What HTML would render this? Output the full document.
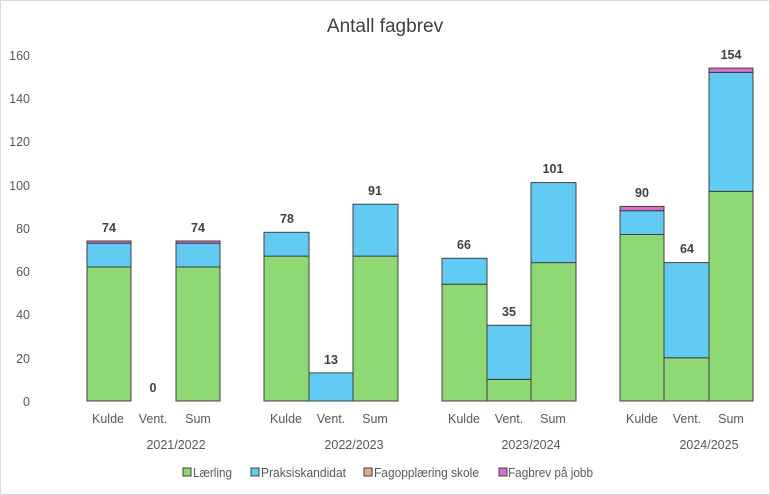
<!DOCTYPE html>
<html><head><meta charset="utf-8"><style>
body{margin:0;background:#fff}
svg{display:block;font-family:"Liberation Sans",sans-serif}
</style></head><body>
<svg width="770" height="495" viewBox="0 0 770 495" xmlns="http://www.w3.org/2000/svg">
<rect x="0.5" y="0.5" width="769" height="494" fill="#fff" stroke="#d9d9d9"/>
<text x="385" y="32" font-size="19" fill="#404040" text-anchor="middle">Antall fagbrev</text>
<g font-size="12.5" fill="#595959" text-anchor="end">
<text x="30" y="406">0</text><text x="30" y="363">20</text><text x="30" y="319">40</text>
<text x="30" y="276">60</text><text x="30" y="233">80</text><text x="30" y="190">100</text>
<text x="30" y="146">120</text><text x="30" y="103">140</text><text x="30" y="60">160</text>
</g>
<g stroke="#404040" stroke-width="1">
<rect x="87" y="267.0" width="44" height="134" fill="#8ed973"/>
<rect x="87" y="243.2" width="44" height="23.8" fill="#61cbf3"/>
<rect x="87" y="241" width="44" height="2.2" fill="#d86ecc"/>
<rect x="176" y="267.0" width="44" height="134" fill="#8ed973"/>
<rect x="176" y="243.2" width="44" height="23.8" fill="#61cbf3"/>
<rect x="176" y="241" width="44" height="2.2" fill="#d86ecc"/>
<rect x="264" y="256.1" width="45" height="144.9" fill="#8ed973"/>
<rect x="264" y="232.3" width="45" height="23.8" fill="#61cbf3"/>
<rect x="309" y="372.9" width="44" height="28.1" fill="#61cbf3"/>
<rect x="353" y="256.1" width="45" height="144.9" fill="#8ed973"/>
<rect x="353" y="204.2" width="45" height="51.9" fill="#61cbf3"/>
<rect x="442" y="284.2" width="45" height="116.8" fill="#8ed973"/>
<rect x="442" y="258.3" width="45" height="25.9" fill="#61cbf3"/>
<rect x="487" y="379.4" width="44" height="21.6" fill="#8ed973"/>
<rect x="487" y="325.3" width="44" height="54.1" fill="#61cbf3"/>
<rect x="531" y="262.6" width="45" height="138.4" fill="#8ed973"/>
<rect x="531" y="182.6" width="45" height="80" fill="#61cbf3"/>
<rect x="620" y="234.5" width="44" height="166.5" fill="#8ed973"/>
<rect x="620" y="210.7" width="44" height="23.8" fill="#61cbf3"/>
<rect x="620" y="206.4" width="44" height="4.3" fill="#d86ecc"/>
<rect x="664" y="357.8" width="45" height="43.2" fill="#8ed973"/>
<rect x="664" y="262.6" width="45" height="95.2" fill="#61cbf3"/>
<rect x="709" y="191.3" width="44" height="209.7" fill="#8ed973"/>
<rect x="709" y="72.4" width="44" height="118.9" fill="#61cbf3"/>
<rect x="709" y="68.1" width="44" height="4.3" fill="#d86ecc"/>
</g>
<g font-size="12.5" font-weight="bold" fill="#404040" text-anchor="middle">
<text x="109" y="232">74</text><text x="153" y="392">0</text><text x="198" y="232">74</text>
<text x="287" y="223">78</text><text x="331" y="364">13</text><text x="375" y="195">91</text>
<text x="464" y="249">66</text><text x="509" y="316">35</text><text x="553" y="173">101</text>
<text x="642" y="197">90</text><text x="687" y="253">64</text><text x="731" y="59">154</text>
</g>
<g font-size="12.5" fill="#595959" text-anchor="middle">
<text x="108" y="423">Kulde</text><text x="153" y="423">Vent.</text><text x="198" y="423">Sum</text>
<text x="286" y="423">Kulde</text><text x="331" y="423">Vent.</text><text x="375" y="423">Sum</text>
<text x="464" y="423">Kulde</text><text x="509" y="423">Vent.</text><text x="553" y="423">Sum</text>
<text x="642" y="423">Kulde</text><text x="687" y="423">Vent.</text><text x="731" y="423">Sum</text>
<text x="176" y="449">2021/2022</text><text x="354" y="449">2022/2023</text>
<text x="531" y="449">2023/2024</text><text x="709" y="449">2024/2025</text>
</g>
<g font-size="12.5" fill="#595959" stroke-width="1">
<rect x="183" y="468" width="8" height="8" fill="#8ed973" stroke="#404040"/><text x="193" y="477" textLength="39" lengthAdjust="spacingAndGlyphs">Lærling</text>
<rect x="251" y="468" width="8" height="8" fill="#61cbf3" stroke="#404040"/><text x="261" y="477" textLength="85" lengthAdjust="spacingAndGlyphs">Praksiskandidat</text>
<rect x="364" y="468" width="8" height="8" fill="#f1a983" stroke="#404040"/><text x="374" y="477" textLength="105" lengthAdjust="spacingAndGlyphs">Fagopplæring skole</text>
<rect x="499" y="468" width="8" height="8" fill="#d86ecc" stroke="#404040"/><text x="508" y="477" textLength="85" lengthAdjust="spacingAndGlyphs">Fagbrev på jobb</text>
</g>
</svg>
</body></html>
